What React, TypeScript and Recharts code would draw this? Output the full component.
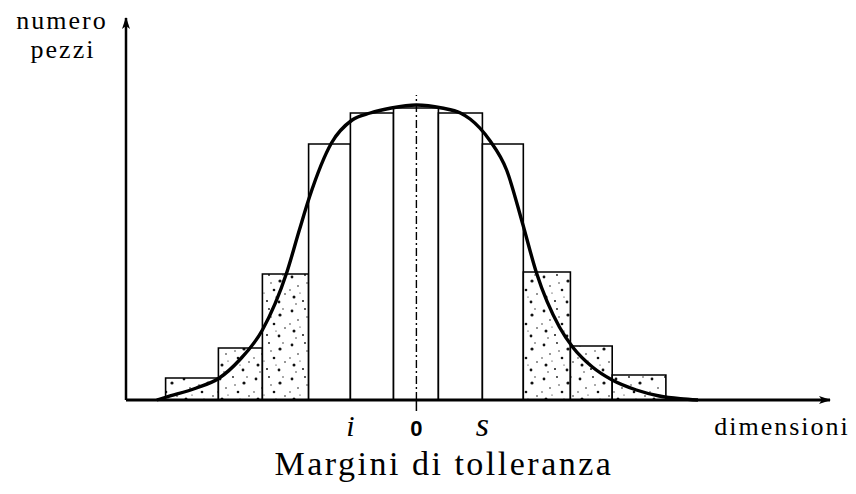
import { ComposedChart, Line, XAxis, YAxis, ReferenceArea, ReferenceLine } from "recharts";

// histogram bins: edges, piece counts and which ones fall outside the tolerance
const binEdges = [-5.7, -4.5, -3.5, -2.45, -1.5, -0.52, 0.5, 1.5, 2.43, 3.5, 4.45, 5.67];
const binCounts = [2.2, 5.2, 12.6, 25.6, 28.7, 29.2, 28.7, 25.6, 12.8, 5.4, 2.5];
const binOutside = [true, true, true, false, false, false, false, false, true, true, true];

// distribution curve
const curveX = [-5.9, -5.68, -5.0, -4.48, -4.02, -3.5, -2.95, -2.66, -2.43, -1.93, -1.46, -1.05, -0.57, 0, 0.58, 1.0, 1.22, 1.66, 2.05, 2.41, 2.73, 3.25, 3.55, 4.0, 4.45, 5.0, 5.52, 6.0, 6.4];
const curveY = [0, 0.3, 1.2, 2.2, 4.0, 7.0, 12.7, 17.0, 20.3, 25.7, 28.0, 28.7, 29.2, 29.5, 29.2, 28.7, 28.1, 26.0, 23.0, 17.7, 12.7, 7.3, 5.3, 3.3, 2.0, 1.0, 0.4, 0.12, 0];

// tolerance limits on the x axis
const tickValues = [-1.5, 0, 1.5];
const tickLabels = ["i", "0", "s"];

const curve = curveX.map((x, i) => ({ x, y: curveY[i] }));

const serif = "Liberation Serif, Times New Roman, serif";

const DimTick = (props: any) => {
  const { x, y, payload } = props;
  const idx = tickValues.indexOf(payload.value);
  const label = tickLabels[idx];
  if (label === "0") {
    return (
      <g>
        <line x1={x} y1={y - 8} x2={x} y2={y + 3} stroke="#000" strokeWidth={1.5} />
        <text x={x} y={y + 28} textAnchor="middle" fontFamily="Liberation Sans, Arial, sans-serif" fontWeight={700} fontSize={22} fill="#000">
          0
        </text>
      </g>
    );
  }
  return (
    <text x={x} y={y + 28} textAnchor="middle" fontFamily={serif} fontStyle="italic" fontSize={label === "s" ? 34 : 30} fill="#000">
      {label}
    </text>
  );
};

// irregular specks for the out-of-tolerance bins
const specks = [
  [4, 5, 1.4], [17, 3, 0.9], [28, 9, 1.6], [10, 14, 0.8], [22, 18, 1.3], [33, 22, 0.8],
  [6, 25, 1.5], [15, 29, 1.0], [27, 30, 1.4], [19, 11, 0.7], [2, 18, 0.7], [12, 21, 0.6],
  [31, 3, 0.7], [24, 25, 0.6], [8, 32, 0.7],
];

const App = () => {
  return (
    <div style={{ position: "absolute", left: 0, top: 0, background: "#fff" }}>
      <ComposedChart width={856} height={494} data={curve} margin={{ top: 18, right: 26, bottom: 0, left: 125 }}>
        <defs>
          <pattern id="stipple" width="36" height="34" patternUnits="userSpaceOnUse">
            <rect width="36" height="34" fill="#fff" />
            {specks.map(([cx, cy, r], i) => (
              <circle key={i} cx={cx} cy={cy} r={r} fill="#111" />
            ))}
          </pattern>
          <marker id="arrowHead" viewBox="0 0 12 8" refX="11" refY="4" markerWidth="12" markerHeight="8" markerUnits="userSpaceOnUse" orient="auto-start-reverse">
            <path d="M0,0 L12,4 L0,8 L3,4 Z" fill="#000" />
          </marker>
        </defs>

        <XAxis
          type="number"
          dataKey="x"
          domain={[-6.6, 9.4]}
          ticks={tickValues}
          tick={<DimTick />}
          tickLine={false}
          interval={0}
          height={94}
          axisLine={{ stroke: "#000", strokeWidth: 3, markerEnd: "url(#arrowHead)" }}
        />
        <YAxis
          type="number"
          domain={[0, 38.2]}
          width={1}
          tick={false}
          tickLine={false}
          axisLine={{ stroke: "#000", strokeWidth: 2.5, markerStart: "url(#arrowHead)" }}
        />

        {binCounts.map((c, i) => (
          <ReferenceArea
            key={i}
            x1={binEdges[i]}
            x2={binEdges[i + 1]}
            y1={0}
            y2={c}
            fill={binOutside[i] ? "url(#stipple)" : "#fff"}
            fillOpacity={1}
            stroke="#000"
            strokeWidth={1.6}
          />
        ))}

        <ReferenceLine
          segment={[{ x: 0, y: 0 }, { x: 0, y: 30.5 }]}
          stroke="#000"
          strokeWidth={1.4}
          strokeDasharray="8 3 2 3"
        />

        <Line type="monotone" dataKey="y" stroke="#000" strokeWidth={3.4} dot={false} isAnimationActive={false} />

        <text x={62} y={29} textAnchor="middle" fontFamily={serif} fontSize={26} letterSpacing={2} fill="#000">numero</text>
        <text x={63} y={58} textAnchor="middle" fontFamily={serif} fontSize={26} letterSpacing={2} fill="#000">pezzi</text>
        <text x={782} y={435} textAnchor="middle" fontFamily={serif} fontSize={26} letterSpacing={2} fill="#000">dimensioni</text>
        <text x={444} y={475} textAnchor="middle" fontFamily={serif} fontSize={34} letterSpacing={2.5} fill="#000">Margini di tolleranza</text>
      </ComposedChart>
    </div>
  );
};

export default App;
